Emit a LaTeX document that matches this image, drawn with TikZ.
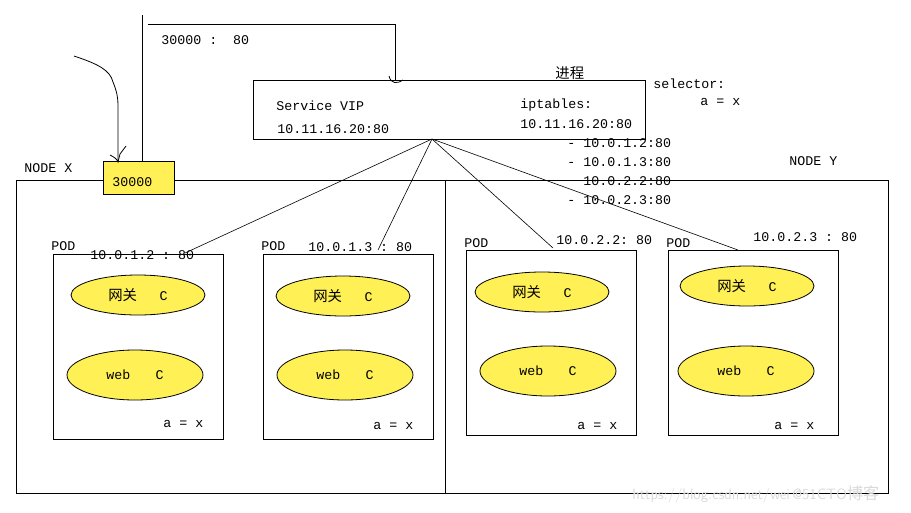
\documentclass[tikz,border=0pt]{standalone}
\usepackage{fontspec}
\setmonofont{Liberation Mono}
\newfontfamily\cjk{Noto Sans CJK SC}[Scale=1.08]
\usetikzlibrary{shapes.geometric}
\definecolor{podyellow}{RGB}{255,240,85}
\begin{document}
\begin{tikzpicture}[x=1pt,y=-1pt,line width=0.8pt,
    every node/.style={font=\ttfamily\fontsize{13.3}{15}\selectfont,inner sep=0pt},
    lbl/.style={anchor=west},
    podbox/.style={draw,minimum width=170pt,minimum height=185pt},
    nodebox/.style={draw,minimum height=313pt},
    gwell/.style={draw,ellipse,fill=podyellow,minimum width=134pt,minimum height=40pt},
    webell/.style={draw,ellipse,fill=podyellow,minimum width=136pt,minimum height=50pt}]
    \useasboundingbox (0,0) rectangle (911,512);
    \node [nodebox,minimum width=429pt] (nodex) at (230.5,336.5) {};
    \node [nodebox,minimum width=443pt] (nodey) at (666.5,336.5) {};
    \node [lbl] at (24,168) {NODE X};
    \node [lbl] at (789,161) {NODE Y};
    \node [draw,fill=podyellow,minimum width=71pt,minimum height=33pt] (port) at (138.5,177.5) {};
    \node [lbl] at (112,182) {30000};
    \node [draw,minimum width=392pt,minimum height=59pt] (vip) at (449,109.5) {};
    \node [lbl] at (276,106) {Service VIP};
    \node [lbl] at (277,129) {10.11.16.20:80};
    \node [lbl] at (520,105) {iptables:};
    \node [lbl] at (520,124) {10.11.16.20:80};
    \node [lbl] at (555,73) {\cjk 进程};
    \node [lbl] at (653,84) {selector:};
    \node [lbl] at (700,102) {a = x};
    \node [lbl] at (567,143) {- 10.0.1.2:80};
    \node [lbl] at (567,162) {- 10.0.1.3:80};
    \node [lbl] at (567,181) {\phantom{- }10.0.2.2:80};
    \node [lbl] at (567,200) {- 10.0.2.3:80};
    \node [lbl] at (161,40) {30000 :\ \ 80};
    \coordinate (ntop) at (142,15);
    \coordinate (bend) at (395,24);
    \coordinate (vin) at (395,81);
    \draw (port.north -| ntop) -- (ntop);
    \draw (148,24) -- (bend) -- (vin);
    \draw (389,76) .. controls (391,84) and (397,84) .. (403,80);
    \coordinate (hand) at (74,56);
    \coordinate (tip) at (118,162);
    \draw (hand) .. controls (98,64) and (110,70) .. (113,82) .. controls (117,92) and (118,98) .. (118,105) -- (tip);
    \draw (110,155) .. controls (114,157) and (117,159) .. (tip) -- (120,154) -- (126,146);
    \node [podbox] (pod1) at (138,346.5) {};
    \node [podbox] (pod2) at (348,346.5) {};
    \node [podbox] (pod3) at (551,342.5) {};
    \node [podbox] (pod4) at (753,342.5) {};
    \node [gwell] (gw1) at (138,295) {{\cjk 网关}\hspace{1.7em}C};
    \node [gwell] (gw2) at (343,296) {{\cjk 网关}\hspace{1.7em}C};
    \node [gwell] (gw3) at (542,292) {{\cjk 网关}\hspace{1.7em}C};
    \node [gwell] (gw4) at (747,286) {{\cjk 网关}\hspace{1.7em}C};
    \node [webell] (web1) at (135,375) {web\hspace{1.9em}C};
    \node [webell] (web2) at (345,375) {web\hspace{1.9em}C};
    \node [webell] (web3) at (548,371) {web\hspace{1.9em}C};
    \node [webell] (web4) at (746,371) {web\hspace{1.9em}C};
    \node [lbl] at (51,246) {POD};
    \node [lbl] at (261,246) {POD};
    \node [lbl] at (464,243) {POD};
    \node [lbl] at (666,243) {POD};
    \node [lbl] (ip1) at (90,255) {10.0.1.2 : 80};
    \node [lbl] (ip2) at (308,247) {10.0.1.3 : 80};
    \node [lbl] (ip3) at (556,240) {10.0.2.2: 80};
    \node [lbl] (ip4) at (753,237) {10.0.2.3 : 80};
    \node [lbl] at (163,424) {a = x};
    \node [lbl] at (373,426) {a = x};
    \node [lbl] at (577,426) {a = x};
    \node [lbl] at (774,426) {a = x};
    \coordinate (fan) at (432,139);
    \coordinate (e1) at (185,253);
    \coordinate (e2) at (378,250);
    \coordinate (e3) at (553,248);
    \coordinate (e4) at (738,250);
    \draw [line width=0.6pt] (fan) -- (e1);
    \draw [line width=0.6pt] (fan) -- (e2);
    \draw [line width=0.6pt] (fan) -- (e3);
    \draw [line width=0.6pt] (fan) -- (e4);
    \node [lbl,font=\sffamily\fontsize{15}{17}\selectfont,text=gray!30] at (632,494) {https://blog.csdn.net/wei\,@51CTO{\cjk 博客}};
\end{tikzpicture}
\end{document}
